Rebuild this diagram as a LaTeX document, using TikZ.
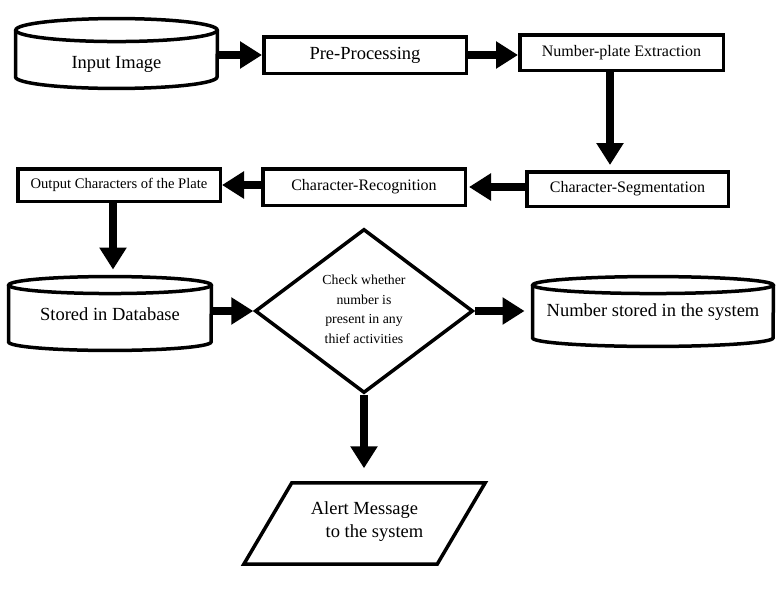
\documentclass[tikz,border=0pt]{standalone}
\usepackage{fontspec}
\setmainfont{Liberation Serif}
\usetikzlibrary{shapes.geometric,arrows.meta}
\newcommand\cylout[3]{%
  \draw[outl] ([yshift=-#3]#1.north) ellipse[x radius=#2, y radius=#3];
  \draw[outl] ([yshift=-#3]#1.north west) -- ([yshift=#3]#1.south west)
     arc[start angle=180, end angle=360, x radius=#2, y radius=#3]
     -- ([yshift=-#3]#1.north east);}
\begin{document}
\begin{tikzpicture}[x=1pt,y=-1pt,
  outl/.style={line width=3.5pt},
  box/.style={draw, line width=3.5pt, rectangle, inner sep=0pt, minimum width=202.5pt, minimum height=36pt},
  cylnode/.style={rectangle, inner sep=0pt},
  big/.style={font=\fontsize{18.5pt}{22pt}\selectfont},
  mid/.style={font=\fontsize{16pt}{19pt}\selectfont},
  arr/.style={line width=8.5pt, -{Triangle[length=22pt,width=26pt]}}]
\useasboundingbox (0,0) rectangle (782,597);
% cylinders
\node[cylnode, minimum width=201.5pt, minimum height=69.5pt] (inp) at (116.5,53.5) {};
\cylout{inp}{100.75pt}{11.5pt}
\node[big] (inptxt) at (116.5,64) {Input Image};
\node[cylnode, minimum width=202.5pt, minimum height=73.5pt] (db) at (110,313.5) {};
\cylout{db}{101.25pt}{8.5pt}
\node[big] (dbtxt) at (110,314) {Stored in Database};
\node[cylnode, minimum width=240.5pt, minimum height=69.5pt] (ns) at (653,311.5) {};
\cylout{ns}{120.25pt}{8.5pt}
\node[big] (nstxt) at (653,312.5) {Number stored in the system};
% boxes
\node[box, big, minimum height=36.5pt] (pre) at (365,55) {Pre-Processing};
\node[box, mid, minimum width=203.5pt, minimum height=35.5pt] (np) at (621.5,52.5) {Number-plate Extraction};
\node[box, mid, minimum width=201.5pt, minimum height=34.5pt] (seg) at (627.5,189) {Character-Segmentation};
\node[box, mid, minimum height=36.5pt] (rec) at (364,187) {Character-Recognition};
\node[box, font=\fontsize{14.6pt}{17pt}\selectfont, minimum height=32.5pt] (out) at (119,185) {Output Characters of the Plate};
% decision
\node[diamond, draw, line width=3.5pt, inner sep=0pt, aspect=1.33, minimum width=218pt, minimum height=164pt,
      align=center, font=\fontsize{13.8pt}{19.5pt}\selectfont] (dia) at (364,311)
  {\\[-13pt]Check whether\\number is\\present in any\\thief activities};
% alert parallelogram
\node[rectangle, inner sep=0pt, minimum width=241pt, minimum height=81pt, align=center,
      font=\fontsize{18.5pt}{23pt}\selectfont] (alert) at (364.5,522)
  {Alert Message\\\hspace*{20pt}to the system};
\draw[outl, line join=miter] ([xshift=48pt,yshift=-1.5pt]alert.north west) -- ([yshift=-1.5pt]alert.north east)
  -- ([xshift=-48pt,yshift=-1.5pt]alert.south east) -- ([yshift=-1.5pt]alert.south west) -- cycle;
% connectors
\draw[arr] (inp.east |- pre.west) -- (pre.west);
\draw[arr] (pre.east) -- (np.west |- pre.east);
\draw[arr, shorten >=5pt] ([xshift=-11.5pt]np.south) -- ([xshift=-11.5pt]np.south |- seg.north);
\draw[arr, shorten >=2pt] (seg.west |- rec.east) -- (rec.east);
\draw[arr] (rec.west |- out.east) -- (out.east);
\draw[arr, shorten >=7pt] ([xshift=-6pt]out.south) -- ([xshift=-6pt]out.south |- db.north);
\draw[arr] (db.east |- dia.west) -- (dia.west);
\draw[arr, shorten >=8pt] (dia.east) -- (ns.west |- dia.east);
\draw[arr, shorten >=13pt] (dia.south) -- (dia.south |- alert.north);
\end{tikzpicture}
\end{document}
